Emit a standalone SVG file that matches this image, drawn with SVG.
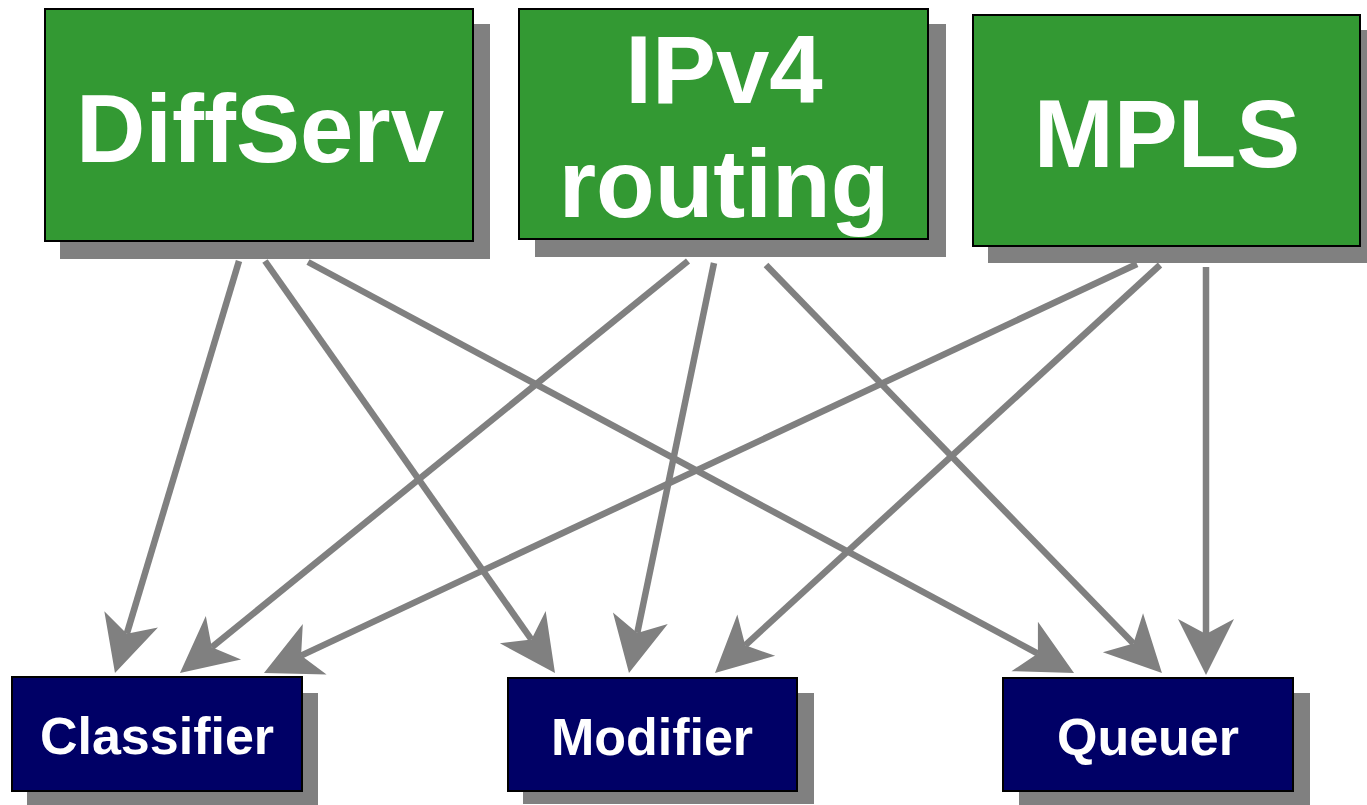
<svg xmlns="http://www.w3.org/2000/svg" width="1367" height="805" viewBox="0 0 1367 805">
<style>
.shadow{fill:#808080}
.big{fill:#339933;stroke:#000;stroke-width:2}
.small{fill:#000066;stroke:#000;stroke-width:2}
.bt{font-family:"Liberation Sans",Arial,sans-serif;font-weight:bold;font-size:96px;fill:#fff;text-anchor:middle}
.st{font-family:"Liberation Sans",Arial,sans-serif;font-weight:bold;font-size:52px;fill:#fff;text-anchor:middle}
.conn{stroke:#808080;stroke-width:6.5;fill:none;marker-end:url(#ah)}
</style>
<defs>
<marker id="ah" markerUnits="userSpaceOnUse" orient="auto" refX="0" refY="0" markerWidth="120" markerHeight="120" viewBox="-60 -60 120 120" overflow="visible">
<path d="M41,0 L-15,-28 L0,0 L-15,28 Z" fill="#808080"/>
</marker>
</defs>
<g id="connectors">
<path class="conn" d="M239,261 L126.8,633.7"/>
<path class="conn" d="M265,261 L531.4,639.5"/>
<path class="conn" d="M308,262 L1037.9,653.6"/>
<path class="conn" d="M688,261 L211.8,647.2"/>
<path class="conn" d="M714,263 L637.3,632.9"/>
<path class="conn" d="M766,265 L1133.4,643.6"/>
<path class="conn" d="M1137,264 L301.1,655.6"/>
<path class="conn" d="M1160,265 L745.2,645.3"/>
<path class="conn" d="M1206,267 L1206,634"/>
</g>
<g id="diffserv">
<rect class="shadow" x="60" y="24" width="430" height="235"/>
<rect class="big" x="45" y="9" width="428" height="232"/>
<text class="bt" x="260" y="162">DiffServ</text>
</g>
<g id="ipv4">
<rect class="shadow" x="535" y="24" width="411" height="233"/>
<rect class="big" x="519" y="9" width="409" height="230"/>
<text class="bt" x="724" y="103">IPv4</text>
<text class="bt" x="724" y="217">routing</text>
</g>
<g id="mpls">
<rect class="shadow" x="988" y="30" width="379" height="233"/>
<rect class="big" x="973" y="15" width="387" height="231"/>
<text class="bt" x="1167" y="167">MPLS</text>
</g>
<g id="classifier">
<rect class="shadow" x="27" y="693" width="291" height="112"/>
<rect class="small" x="12" y="677" width="290" height="114"/>
<text class="st" x="157" y="754">Classifier</text>
</g>
<g id="modifier">
<rect class="shadow" x="523" y="693" width="291" height="111"/>
<rect class="small" x="508" y="678" width="289" height="113"/>
<text class="st" x="652" y="755">Modifier</text>
</g>
<g id="queuer">
<rect class="shadow" x="1019" y="693" width="291" height="112"/>
<rect class="small" x="1003" y="678" width="290" height="113"/>
<text class="st" x="1148" y="755">Queuer</text>
</g>
</svg>
